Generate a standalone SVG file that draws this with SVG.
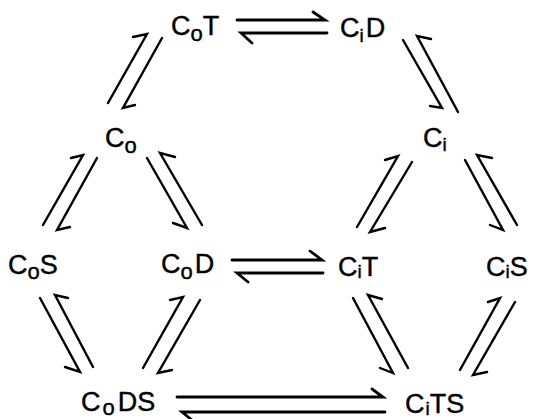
<svg xmlns="http://www.w3.org/2000/svg" width="536" height="419" viewBox="0 0 536 419">
  <style>
    .lbl { font-family: "Liberation Sans", Arial, sans-serif; font-size: 27px; fill: #000; stroke: #000; stroke-width: 0.4; }
    .so { font-size: 22px; }
    .si { font-size: 19px; }
    .arr { fill: none; stroke: #000; stroke-width: 2.4; stroke-linecap: round; stroke-linejoin: miter; }
    .h { stroke-width: 2.8; }
  </style>
  <rect width="536" height="419" fill="#fff"/>

  <!-- nodes -->
  <g id="CoT"><text class="lbl" x="171" y="35">C<tspan class="so" dy="6">o</tspan><tspan dy="-6">T</tspan></text></g>
  <g id="CiD"><text class="lbl" x="340" y="37">C<tspan class="si" dy="5">i</tspan><tspan dy="-5" dx="2">D</tspan></text></g>
  <g id="Co"><text class="lbl" x="105" y="147">C<tspan class="so" dy="6">o</tspan></text></g>
  <g id="Ci"><text class="lbl" x="423" y="147">C<tspan class="si" dy="4">i</tspan></text></g>
  <g id="CoS"><text class="lbl" x="8" y="274">C<tspan class="so" dy="5">o</tspan><tspan dy="-5">S</tspan></text></g>
  <g id="CoD"><text class="lbl" x="161" y="273">C<tspan class="so" dy="6">o</tspan><tspan dy="-6" dx="2">D</tspan></text></g>
  <g id="CiT"><text class="lbl" x="338" y="276">C<tspan class="si" dy="2">i</tspan><tspan dy="-2">T</tspan></text></g>
  <g id="CiS"><text class="lbl" x="486" y="276">C<tspan class="si" dy="2">i</tspan><tspan dy="-2">S</tspan></text></g>
  <g id="CoDS"><text class="lbl" x="81" y="411">C<tspan class="so" dy="4" dx="2">o</tspan><tspan dy="-4" dx="3">DS</tspan></text></g>
  <g id="CiTS"><text class="lbl" x="405" y="413">C<tspan class="si" dy="2" dx="1">i</tspan><tspan dy="-2">TS</tspan></text></g>

  <!-- equilibrium half-arrows -->
  <g id="connectors">
    <!-- CoT / CiD -->
    <path class="arr h" d="M237,20 L325,20 L313,12"/>
    <path class="arr h" d="M327,33 L241,33 L252,43"/>
    <!-- Co / CoT -->
    <path class="arr" d="M108,103 L147,34 L133,37"/>
    <path class="arr" d="M162,38 L123,108 L135,105"/>
    <!-- CiD / Ci -->
    <path class="arr" d="M403,40 L442,108 L430,106"/>
    <path class="arr" d="M458,112 L417,36 L431,39"/>
    <!-- Co / CoS -->
    <path class="arr" d="M43,225 L83,155 L71,158"/>
    <path class="arr" d="M97,158 L57,230 L70,227"/>
    <!-- Co / CoD -->
    <path class="arr" d="M147,158 L187,228 L173,223"/>
    <path class="arr" d="M202,225 L160,153 L175,157"/>
    <!-- Ci / CiT -->
    <path class="arr" d="M357,227 L398,156 L385,160"/>
    <path class="arr" d="M412,162 L370,232 L385,228"/>
    <!-- Ci / CiS -->
    <path class="arr" d="M465,160 L503,230 L490,225"/>
    <path class="arr" d="M517,225 L477,155 L492,158"/>
    <!-- CoD / CiT -->
    <path class="arr h" d="M232,260 L322,260 L310,251"/>
    <path class="arr h" d="M323,273 L237,273 L248,282"/>
    <!-- CoS / CoDS -->
    <path class="arr" d="M40,298 L80,372 L65,367"/>
    <path class="arr" d="M93,367 L55,295 L68,298"/>
    <!-- CoD / CoDS -->
    <path class="arr" d="M143,368 L183,297 L170,300"/>
    <path class="arr" d="M200,300 L158,373 L172,370"/>
    <!-- CiT / CiTS -->
    <path class="arr" d="M353,298 L393,373 L380,368"/>
    <path class="arr" d="M408,368 L368,295 L382,299"/>
    <!-- CiS / CiTS -->
    <path class="arr" d="M460,370 L500,298 L488,302"/>
    <path class="arr" d="M515,302 L473,375 L487,372"/>
    <!-- CoDS / CiTS -->
    <path class="arr h" d="M177,397 L383,397 L372,389"/>
    <path class="arr h" d="M385,412 L182,412 L192,420"/>
  </g>
</svg>
